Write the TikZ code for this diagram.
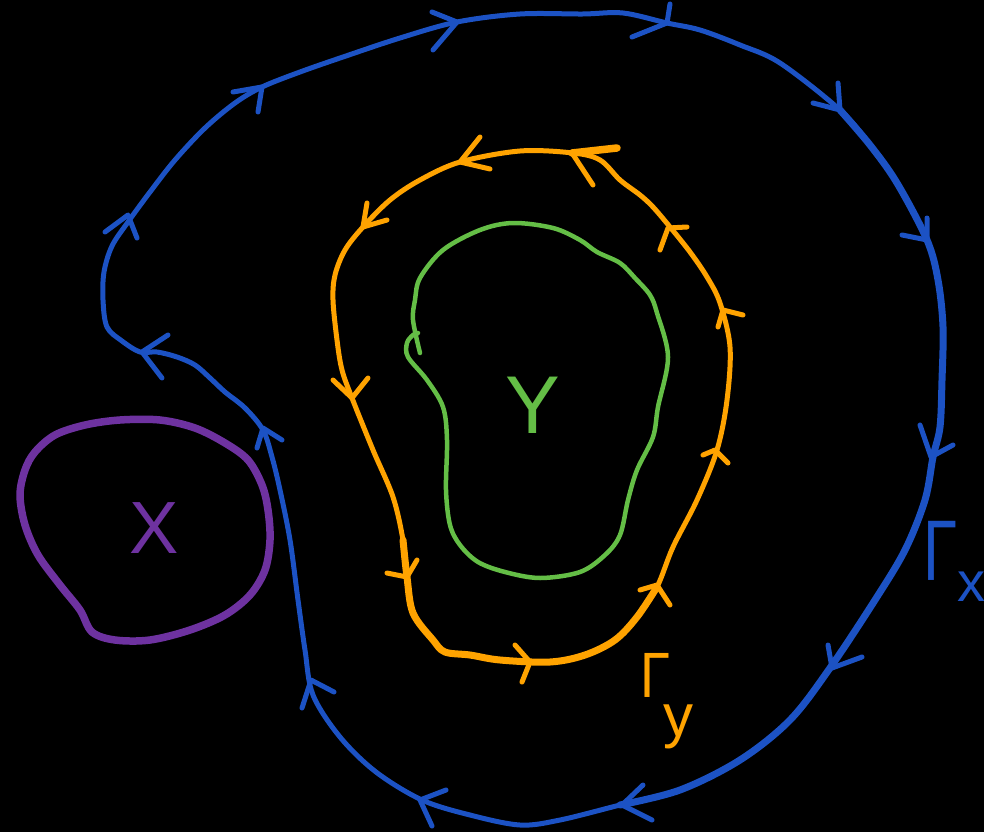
\documentclass[tikz,border=0pt]{standalone}
\usepackage{fontspec}
\newfontfamily\lblfont{Liberation Sans}
\definecolor{cblue}{RGB}{28,82,196}
\definecolor{corange}{RGB}{255,163,0}
\definecolor{cgreen}{RGB}{100,190,70}
\definecolor{cpurple}{RGB}{110,50,160}
\tikzset{
  curve/.style={line cap=round, line join=round},
  bluecurve/.style={curve, draw=cblue, line width=5pt},
  orangecurve/.style={curve, draw=corange, line width=5pt},
  greencurve/.style={curve, draw=cgreen, line width=4.5pt},
  purplecurve/.style={curve, draw=cpurple, line width=7.5pt},
  bluehead/.style={curve, draw=cblue, line width=5pt},
  orangehead/.style={curve, draw=corange, line width=5pt},
  lbl/.style={inner sep=0pt, anchor=base, font=\lblfont}
}
\begin{document}
\begin{tikzpicture}[x=1pt,y=-1pt]
\fill[black] (0,0) rectangle (984,832);
\useasboundingbox (0,0) rectangle (984,832);

% outer blue contour Gamma_x
\draw[bluecurve] plot[smooth cycle, tension=0.55] coordinates {
 (103,300) (104,272) (112,246) (128,222) (150,192) (175,160) (205,128) (235,103)
 (262,87) (300,72) (343,57) (400,38) (457,22) (520,14) (583,14) (623,13) (667,23)
 (700,30) (740,45) (780,63) (840,110) (870,145) (897,183) (927,240) (938,280)
 (943,327) (942,380) (940,427) (933,457) (925,500) (905,550) (875,600) (830,668)
 (790,720) (740,760) (680,790) (620,805) (560,820) (520,825) (470,815) (422,800)
 (376,772) (340,737) (313,695) (305,650) (298,600) (290,540) (280,490) (272,457)
 (263,430) (245,408) (225,392) (210,378) (195,365) (177,357) (157,352) (140,352)
 (122,341) (107,327)};
\draw[curve, draw=cblue, line width=7pt] plot[smooth, tension=0.55] coordinates {
 (840,110) (870,145) (897,183) (927,240) (938,280)
 (943,327) (942,380) (940,427) (933,457) (925,500) (905,550) (875,600) (830,668)
 (790,720) (740,760) (680,790) (620,805)};

% blue arrowheads
\draw[bluehead] (233,92) -- (262,87) -- (258,112);
\draw[bluehead] (432,12) -- (457,22) -- (433,50);
\draw[bluehead] (670,4) -- (667,23) -- (632,37);
\draw[bluehead] (813,103) -- (840,110) -- (838,83);
\draw[bluehead] (902,235) -- (927,240) -- (927,218);
\draw[bluehead] (920,425) -- (931,457) -- (953,445);
\draw[bluehead] (828,645) -- (832,668) -- (862,657);
\draw[bluehead] (643,785) -- (622,805) -- (652,820);
\draw[bluehead] (446,790) -- (420,800) -- (432,826);
\draw[bluehead] (302,708) -- (311,680) -- (334,692);
\draw[bluehead] (257,448) -- (263,428) -- (282,440);
\draw[bluehead] (168,335) -- (142,352) -- (162,378);
\draw[bluehead] (105,232) -- (128,215) -- (137,238);

% orange contour Gamma_y
\draw[orangecurve] plot[smooth cycle, tension=0.55] coordinates {
 (520,151) (573,153) (600,160) (620,180) (640,195) (653,207) (670,227) (690,252)
 (707,277) (720,303) (730,347) (727,400) (717,450) (697,500) (673,547) (657,587)
 (637,617) (615,640) (585,655) (550,662) (500,660) (470,655) (445,652) (433,640)
 (413,613) (407,577) (403,540) (393,497) (373,450) (352,398) (342,370) (337,340)
 (333,300) (335,275) (345,250) (363,227) (390,200) (420,180) (460,162)};
\draw[curve, draw=corange, line width=7pt] plot[smooth, tension=0.55] coordinates {
 (403,540) (407,577) (413,613) (433,640) (445,652) (470,655) (500,660) (550,662)
 (585,655) (615,640) (637,617) (657,587)};

% orange arrowheads
\draw[orangehead] (480,137) -- (460,162) -- (490,169);
\draw[orangehead, line width=7.5pt] (617,148) -- (572,153);
\draw[orangehead] (572,153) -- (593,185);
\draw[orangehead] (367,203) -- (363,227) -- (387,220);
\draw[orangehead] (333,380) -- (352,398) -- (368,378);
\draw[orangehead] (387,573) -- (407,577) -- (417,560);
\draw[orangehead] (515,645) -- (530,662) -- (522,682);
\draw[orangehead] (640,590) -- (657,585) -- (670,605);
\draw[orangehead] (703,455) -- (715,450) -- (728,463);
\draw[orangehead] (743,315) -- (723,310) -- (718,327);
\draw[orangehead] (687,227) -- (668,228) -- (660,250);

% green curve around Y
\draw[greencurve] plot[smooth, tension=0.55] coordinates {
 (420,353) (413,320) (415,300) (420,278) (443,250) (480,230) (513,223) (553,228)
 (580,240) (597,252) (620,263) (635,278) (650,295) (657,313) (668,357) (658,407)
 (653,437) (637,470) (628,500) (620,535) (605,555) (580,572) (540,578) (505,572)
 (478,562) (460,545) (450,525) (446,490) (447,440) (443,407) (427,380) (408,357)
 (407,343) (413,335) (418,333)};

% purple curve around X
\draw[purplecurve] plot[smooth cycle, tension=0.55] coordinates {
 (35,452) (55,435) (85,425) (120,420) (160,420) (195,428) (225,443) (248,460)
 (262,485) (268,510) (270,540) (265,570) (250,595) (225,615) (190,630) (150,640)
 (115,640) (92,632) (80,610) (60,585) (38,555) (25,525) (20,495) (25,470)};

% labels
\node[lbl, text=cpurple, font=\lblfont\fontsize{74}{74}\selectfont] (X) at (154,553) {X};
\node[lbl, text=cgreen, font=\lblfont\fontsize{82}{82}\selectfont] (Y) at (533,433) {Y};
\node[lbl, text=cblue, xscale=0.72, font=\lblfont\fontsize{86}{86}\selectfont] (Gx) at (941,580) {Γ};
\node[lbl, text=cblue, font=\lblfont\fontsize{56}{56}\selectfont] (gxs) at (971,601) {x};
\node[lbl, text=corange, xscale=0.85, font=\lblfont\fontsize{64}{64}\selectfont] (Gy) at (655,697) {Γ};
\node[lbl, text=corange, font=\lblfont\fontsize{60}{60}\selectfont] (gys) at (678,736) {y};
\end{tikzpicture}
\end{document}
